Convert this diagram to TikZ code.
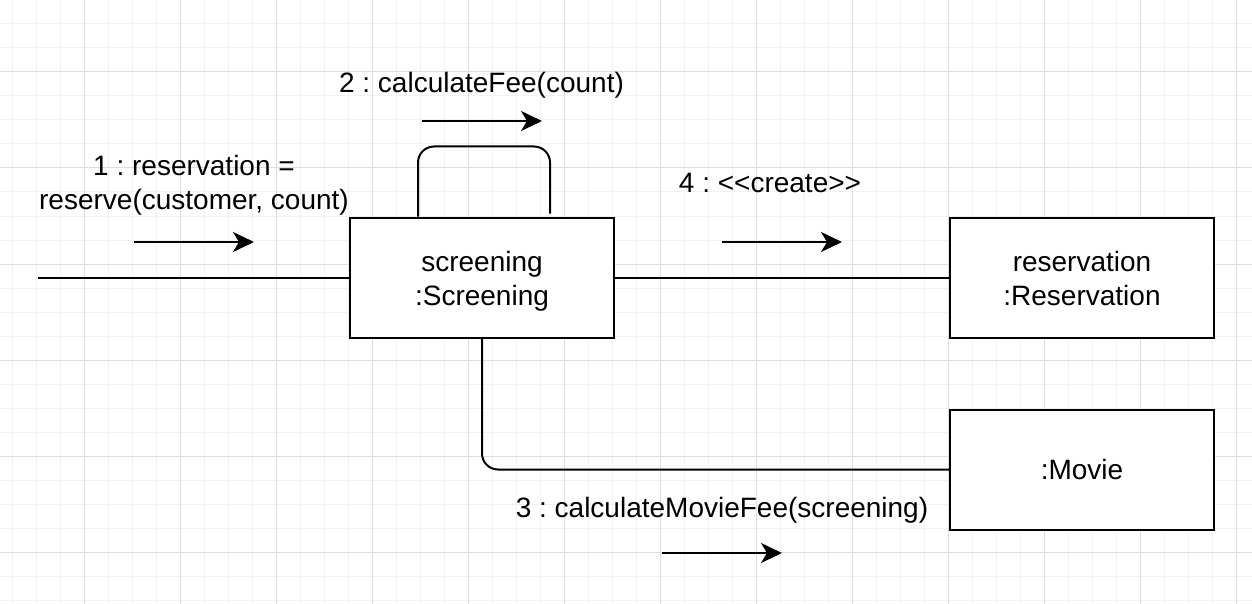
\documentclass[tikz,border=0pt]{standalone}
\usepackage{fontspec}
\setmainfont{Liberation Sans}
\usetikzlibrary{arrows.meta}
\frenchspacing
\definecolor{gridminor}{HTML}{F1F1F1}
\definecolor{gridmajor}{HTML}{DEDEDE}
\newcommand{\topstrut}{\rule{0pt}{29pt}}
\newcommand{\botstrut}{\rule[-7pt]{0pt}{7pt}}
\tikzset{
  objbox/.style={draw=black, line width=2pt, fill=white, rectangle,
    minimum width=264pt, minimum height=120pt, inner sep=0pt, align=center},
  conn/.style={draw=black, line width=2pt},
  msgarrow/.style={draw=black, line width=2pt,
    -{Stealth[length=21pt, width=20pt, inset=6pt]}},
  msglabel/.style={inner sep=0pt, align=center, anchor=base}
}
\begin{document}
\begin{tikzpicture}[x=1pt, y=-1pt, font=\fontsize{28}{33.6}\selectfont]
  \useasboundingbox (0,0) rectangle (1252,604);
  \fill[white] (0,0) rectangle (1252,604);
  % grid
  \foreach \x in {12,36,...,1252} \draw[gridminor, line width=1pt] (\x,0) -- (\x,604);
  \foreach \y in {0,24,...,604} \draw[gridminor, line width=1pt] (0,\y) -- (1252,\y);
  \foreach \x in {84,180,...,1252} \draw[gridmajor, line width=1pt] (\x,0) -- (\x,604);
  \foreach \y in {72,168,...,604} \draw[gridmajor, line width=1pt] (0,\y) -- (1252,\y);

  % objects
  \node[objbox] (scr) at (482,277.5) {\topstrut screening\\:Screening\botstrut};
  \node[objbox] (res) at (1082,277.5) {\topstrut reservation\\:Reservation\botstrut};
  \node[objbox] (mov) at (1082,469.5) {:Movie};
  \coordinate (start) at (38,277.5);

  % links
  \draw[conn] (start) -- (scr.west);
  \draw[conn] (scr.east) -- (res.west);
  \draw[conn, rounded corners=16pt] (scr.south) |- (mov.west);
  \draw[conn, rounded corners=16pt] ([xshift=-64pt]scr.north) -- ++(0,-70)
     -- ++(132,0) -- ([xshift=68pt, yshift=3pt]scr.north);

  % messages
  \node[msglabel] (l1) at (194,209) {1 : reservation =\\reserve(customer, count)};
  \coordinate (a1s) at (134,242); \coordinate (a1e) at (254,242);
  \draw[msgarrow] (a1s) -- (a1e);

  \node[msglabel] (l2) at (481.5,93) {2 : calculateFee(count)};
  \coordinate (a2s) at (422,121); \coordinate (a2e) at (542,121);
  \draw[msgarrow] (a2s) -- (a2e);

  \node[msglabel] (l4) at (770,193) {4 : <{}<create>{}>};
  \coordinate (a4s) at (722,242); \coordinate (a4e) at (842,242);
  \draw[msgarrow] (a4s) -- (a4e);

  \node[msglabel] (l3) at (722,517) {3 : calculateMovieFee(screening)};
  \coordinate (a3s) at (662,553); \coordinate (a3e) at (782,553);
  \draw[msgarrow] (a3s) -- (a3e);
\end{tikzpicture}
\end{document}
